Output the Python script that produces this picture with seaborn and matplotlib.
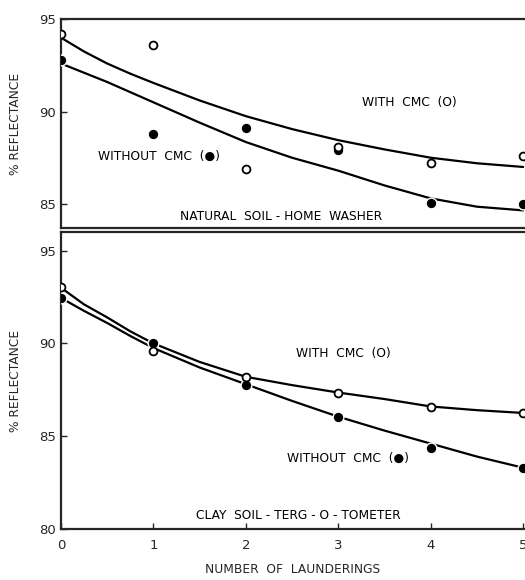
import numpy as np
import pandas as pd
import matplotlib
matplotlib.use("Agg")
import matplotlib.pyplot as plt
import seaborn as sns

# measured points (number of launderings vs % reflectance)
launderings = [0, 1, 2, 3, 4, 5]
home_with = [94.2, 93.6, 86.9, 88.1, 87.2, 87.6]
home_without = [92.8, 88.8, 89.1, 87.9, 85.05, 85.0]
clay_with = [93.05, 89.6, 88.2, 87.35, 86.55, 86.25]
clay_without = [92.45, 90.0, 87.75, 86.05, 84.35, 83.3]

# smoothed curves
curve_x = [0, 0.25, 0.5, 0.75, 1, 1.5, 2, 2.5, 3, 3.5, 4, 4.5, 5]
home_with_curve = [94.0, 93.25, 92.6, 92.05, 91.55, 90.6, 89.75, 89.05, 88.45, 87.95, 87.5, 87.2, 87.0]
home_without_curve = [92.6, 92.1, 91.6, 91.05, 90.5, 89.4, 88.35, 87.5, 86.8, 86.0, 85.3, 84.85, 84.65]
clay_with_curve = [93.0, 92.1, 91.4, 90.65, 90.0, 89.0, 88.2, 87.75, 87.35, 87.0, 86.6, 86.4, 86.25]
clay_without_curve = [92.45, 91.75, 91.1, 90.4, 89.75, 88.7, 87.8, 86.9, 86.05, 85.3, 84.6, 83.9, 83.3]

sns.set_style("ticks")
plt.rcParams['font.family'] = ['DejaVu Sans']

fig = plt.figure(figsize=(5.25, 5.8), dpi=100)
ax1 = fig.add_axes([0.116, 0.607, 0.884, 0.360])
ax2 = fig.add_axes([0.116, 0.088, 0.884, 0.512])

lw = 1.6
txt = dict(fontsize=8.8, ha='center', va='center', color='black')


def draw_panel(ax, pts_with, pts_without, cur_with, cur_without):
    curves = pd.DataFrame({
        'x': curve_x * 2,
        'y': cur_with + cur_without,
        'series': ['with'] * len(curve_x) + ['without'] * len(curve_x),
    })
    sns.lineplot(data=curves, x='x', y='y', units='series', estimator=None,
                 color='black', lw=lw, ax=ax, zorder=2)
    pts = pd.DataFrame({'x': launderings, 'with': pts_with, 'without': pts_without})
    sns.scatterplot(data=pts, x='x', y='without', color='black', s=60,
                    edgecolor='white', linewidth=1.0, ax=ax, zorder=3)
    sns.scatterplot(data=pts, x='x', y='with', facecolor='white', s=32,
                    edgecolor='black', linewidth=1.3, ax=ax, zorder=4)
    ax.set_xlim(0, 5.02)
    ax.set_xlabel('')
    ax.set_ylabel('% REFLECTANCE', fontsize=8.8, labelpad=12)
    ax.tick_params(direction='in', length=4, width=1, labelsize=9.5)
    for s in ax.spines.values():
        s.set_linewidth(1.6)
    ax.spines['right'].set_visible(False)


draw_panel(ax1, home_with, home_without, home_with_curve, home_without_curve)
ax1.set_ylim(83.7, 95)
ax1.set_yticks([85, 90, 95])
ax1.set_xticks([])
ax1.text(3.77, 90.5, 'WITH  CMC  (O)', **txt)
ax1.text(1.06, 87.6, 'WITHOUT  CMC  (\u25CF)', **txt)
ax1.text(2.38, 84.3, 'NATURAL  SOIL - HOME  WASHER', **txt)

draw_panel(ax2, clay_with, clay_without, clay_with_curve, clay_without_curve)
ax2.set_ylim(80, 96)
ax2.set_yticks([80, 85, 90, 95])
ax2.set_xticks(launderings)
ax2.set_xlabel('NUMBER  OF  LAUNDERINGS', fontsize=8.8, labelpad=8)
ax2.tick_params(axis='x', pad=7)
ax2.text(3.06, 89.45, 'WITH  CMC  (O)', **txt)
ax2.text(3.11, 83.8, 'WITHOUT  CMC  (\u25CF)', **txt)
ax2.text(2.57, 80.7, 'CLAY  SOIL - TERG - O - TOMETER', **txt)

fig.savefig('out.png', dpi=100)
